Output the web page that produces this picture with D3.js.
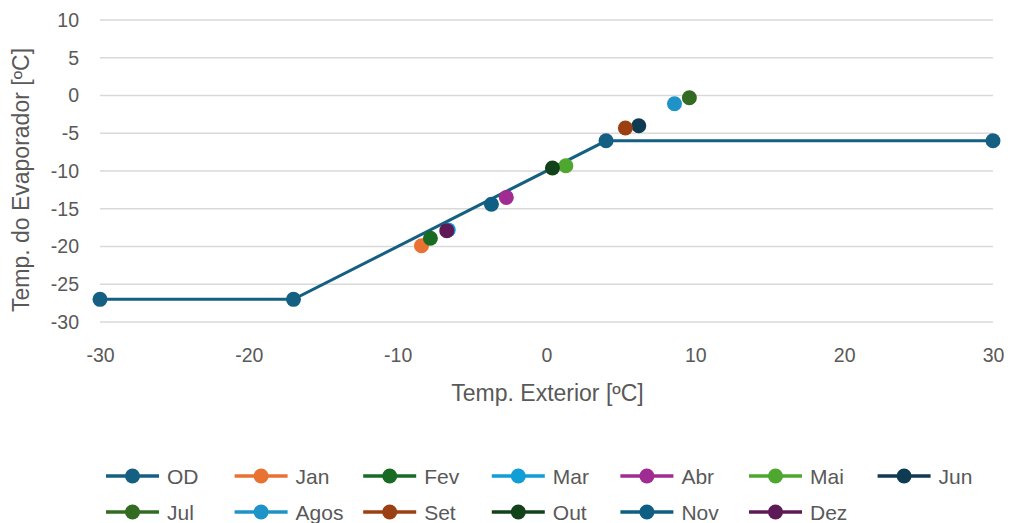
<!DOCTYPE html>
<html>
<head>
<meta charset="utf-8">
<script src="https://cdn.jsdelivr.net/npm/d3@7"></script>
<style>
body{margin:0;background:#fff;}
text{font-family:"Liberation Sans",Arial,sans-serif;fill:#595959;}
</style>
</head>
<body>
<script>
// curva do controlador (OD)
var odX=[-30,-17,4,30];
var odY=[-27,-27,-6,-6];
// pontos mensais
var months=["Jan","Fev","Mar","Abr","Mai","Jun","Jul","Agos","Set","Out","Nov","Dez"];
var monthX=[-8.4,-7.8,-6.6,-2.7,1.3,6.2,9.6,8.6,5.3,0.4,-3.7,-6.7];
var monthY=[-19.9,-18.9,-17.8,-13.5,-9.3,-4.0,-0.3,-1.1,-4.3,-9.6,-14.4,-17.9];
var colors=["#E97132","#196B24","#0F9ED5","#A02B93","#4EA72E","#0E3A52","#336B22","#1F93C8","#9A4012","#12421A","#0F5F85","#5E1A57"];
var odColor="#156082";
var xTicks=[-30,-20,-10,0,10,20,30];
var yTicks=[10,5,0,-5,-10,-15,-20,-25,-30];

var W=1011,H=523;
var svg=d3.select("body").append("svg").attr("width",W).attr("height",H);

var x=d3.scaleLinear().domain([-30,30]).range([100,993]);
var y=d3.scaleLinear().domain([-30,10]).range([322,20]);
var fmt=function(d){return String(d);};

// grelha
svg.append("g").selectAll("line").data(yTicks).enter().append("line")
  .attr("x1",x(-30)).attr("x2",x(30))
  .attr("y1",function(d){return y(d);}).attr("y2",function(d){return y(d);})
  .attr("stroke","#d9d9d9").attr("stroke-width",1.3);

// eixo y
var ya=svg.append("g").attr("transform","translate("+(x(-30)-21)+",0)")
  .call(d3.axisLeft(y).tickValues(yTicks).tickFormat(fmt).tickSize(0).tickPadding(0));
ya.select(".domain").remove();
ya.selectAll("text").style("font-size","19.5px").attr("fill","#595959");

// eixo x
var xa=svg.append("g").attr("transform","translate(0,"+(y(-30)+18)+")")
  .call(d3.axisBottom(x).tickValues(xTicks).tickFormat(fmt).tickSize(0).tickPadding(8));
xa.select(".domain").remove();
xa.selectAll("text").style("font-size","19.5px").attr("fill","#595959");

// titulos
svg.append("text").attr("x",(x(-30)+x(30))/2+1).attr("y",401)
  .attr("text-anchor","middle").style("font-size","23px").text("Temp. Exterior [ºC]");
svg.append("text").attr("transform","translate(29,"+(y(-10)+9)+") rotate(-90)")
  .attr("text-anchor","middle").style("font-size","23px").text("Temp. do Evaporador [ºC]");

// linha OD
var od=odX.map(function(v,i){return [v,odY[i]];});
svg.append("path").datum(od)
  .attr("d",d3.line().x(function(d){return x(d[0]);}).y(function(d){return y(d[1]);}))
  .attr("fill","none").attr("stroke",odColor).attr("stroke-width",3);
svg.append("g").selectAll("circle").data(od).enter().append("circle")
  .attr("cx",function(d){return x(d[0]);}).attr("cy",function(d){return y(d[1]);})
  .attr("r",7.5).attr("fill",odColor);

// pontos mensais
svg.append("g").selectAll("circle").data(months).enter().append("circle")
  .attr("cx",function(d,i){return x(monthX[i]);}).attr("cy",function(d,i){return y(monthY[i]);})
  .attr("r",7.5).attr("fill",function(d,i){return colors[i];});

// legenda
var names=["OD"].concat(months);
var cols=[odColor].concat(colors);
var lg=svg.append("g");
names.forEach(function(n,i){
  var row=Math.floor(i/7), col=i%7;
  var lx=106+col*128.6, ly=476+row*36;
  var g=lg.append("g");
  g.append("line").attr("x1",lx).attr("x2",lx+53).attr("y1",ly).attr("y2",ly)
    .attr("stroke",cols[i]).attr("stroke-width",3.5);
  g.append("circle").attr("cx",lx+26.5).attr("cy",ly).attr("r",7.5).attr("fill",cols[i]);
  g.append("text").attr("x",lx+61).attr("y",ly+7.5).style("font-size","21px").text(n);
});
</script>
</body>
</html>
